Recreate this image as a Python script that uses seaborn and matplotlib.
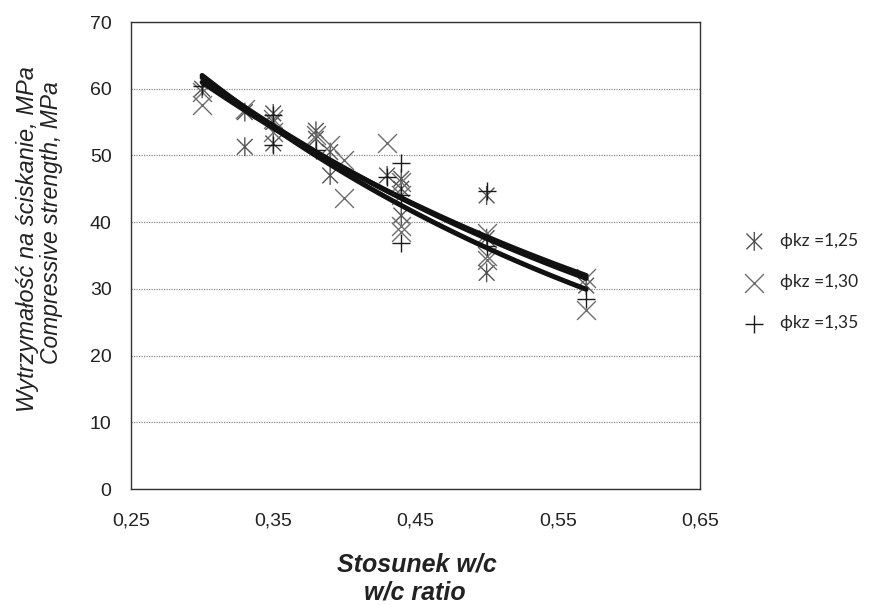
"""
Compressive strength vs w/c ratio for three phi_kz series, with exponential trend lines
"""

import numpy as np
import pandas as pd
import matplotlib
matplotlib.use('Agg')
import matplotlib.pyplot as plt
from matplotlib.path import Path
import seaborn as sns

# phi_kz = 1,25 (asterisk)
wc_125 = [0.30, 0.33, 0.33, 0.35, 0.35, 0.35, 0.38, 0.38, 0.39, 0.39, 0.43,
          0.44, 0.44, 0.44, 0.50, 0.50, 0.50, 0.57]
fc_125 = [60.0, 56.5, 51.3, 56.3, 55.0, 51.8, 53.7, 52.5, 50.5, 47.0, 47.0,
          46.5, 45.0, 41.0, 44.0, 37.6, 32.4, 30.5]

# phi_kz = 1,30 (cross)
wc_130 = [0.30, 0.30, 0.33, 0.35, 0.35, 0.38, 0.39, 0.40, 0.40, 0.43,
          0.44, 0.44, 0.44, 0.44, 0.50, 0.50, 0.50, 0.57, 0.57]
fc_130 = [57.6, 59.5, 57.0, 55.5, 53.5, 53.0, 51.5, 49.3, 43.6, 51.9,
          46.0, 44.0, 39.5, 38.5, 38.4, 35.0, 34.3, 31.6, 26.8]

# phi_kz = 1,35 (plus)
wc_135 = [0.30, 0.35, 0.35, 0.38, 0.43, 0.44, 0.44, 0.44, 0.50, 0.50, 0.57]
fc_135 = [60.4, 56.0, 51.5, 50.8, 46.8, 48.8, 44.0, 36.9, 44.6, 36.5, 28.5]

series_labels = ['ϕkz =1,25', 'ϕkz =1,30', 'ϕkz =1,35']
x_ticks = [0.25, 0.35, 0.45, 0.55, 0.65]
x_tick_labels = ['0,25', '0,35', '0,45', '0,55', '0,65']
y_ticks = [0, 10, 20, 30, 40, 50, 60, 70]

df = pd.concat([
    pd.DataFrame({'wc': wc_125, 'fc': fc_125, 'series': series_labels[0]}),
    pd.DataFrame({'wc': wc_130, 'fc': fc_130, 'series': series_labels[1]}),
    pd.DataFrame({'wc': wc_135, 'fc': fc_135, 'series': series_labels[2]}),
], ignore_index=True)

# Excel-like asterisk: an X with a vertical stroke
asterisk = Path(
    [(-0.5, -0.5), (0.5, 0.5), (-0.5, 0.5), (0.5, -0.5), (0, -0.6), (0, 0.6)],
    [Path.MOVETO, Path.LINETO, Path.MOVETO, Path.LINETO, Path.MOVETO, Path.LINETO]
)

sns.set_style('white')
plt.rcParams['font.family'] = ['Liberation Sans', 'DejaVu Sans']

fig = plt.figure(figsize=(8.7, 6.05), dpi=100)
ax = fig.add_axes([0.1506, 0.1917, 0.6540, 0.7719])

ax.yaxis.grid(True, linestyle=(0, (1, 1)), color='#8a8a8a', linewidth=0.9)
ax.set_axisbelow(True)

# exponential trend line for each series (least squares on ln y, like Excel)
for name, sub in df.groupby('series'):
    k, ln_a = np.polyfit(sub['wc'], np.log(sub['fc']), 1)
    xs = np.linspace(sub['wc'].min(), sub['wc'].max(), 60)
    sns.lineplot(x=xs, y=np.exp(ln_a + k * xs), ax=ax, color='#111111',
                 linewidth=3.6, legend=False, zorder=3)

styles = {
    series_labels[0]: dict(marker=asterisk, facecolor='none', edgecolor='#555555'),
    series_labels[1]: dict(marker='x', color='#6e6e6e'),
    series_labels[2]: dict(marker='+', color='#1a1a1a'),
}
handles = []
for name in series_labels:
    sub = df[df['series'] == name]
    sns.scatterplot(data=sub, x='wc', y='fc', ax=ax, s=185, linewidth=1.0,
                    zorder=2, **styles[name])
    handles.append(ax.collections[-1])

ax.set_xlim(0.25, 0.65)
ax.set_ylim(0, 70)
ax.set_xticks(x_ticks)
ax.set_xticklabels(x_tick_labels)
ax.set_yticks(y_ticks)
ax.tick_params(axis='both', length=0, labelsize=14, colors='#222222')
ax.tick_params(axis='x', pad=17)
ax.tick_params(axis='y', pad=14)
ax.set_xlabel('')
ax.set_ylabel('')
for sp in ax.spines.values():
    sp.set_visible(True)
    sp.set_color('#333333')
    sp.set_linewidth(1.0)

fig.text(28 / 870, 1 - 239 / 605, 'Wytrzymałość na ściskanie, MPa', rotation=90,
         ha='center', va='center', fontsize=17, fontstyle='italic', color='#222222')
fig.text(52 / 870, 1 - 223 / 605, 'Compressive strength, MPa', rotation=90,
         ha='center', va='center', fontsize=16.5, fontstyle='italic', color='#222222')
fig.text(417 / 870, 1 - 565 / 605, 'Stosunek w/c', ha='center', va='center',
         fontsize=18, fontstyle='italic', fontweight='bold', color='#222222')
fig.text(415 / 870, 1 - 592 / 605, 'w/c ratio', ha='center', va='center',
         fontsize=18, fontstyle='italic', fontweight='bold', color='#222222')

leg = fig.legend(handles, series_labels, loc='upper left',
                 bbox_to_anchor=(730 / 870, 1 - 226 / 605), frameon=False,
                 labelspacing=1.45, handletextpad=0.5, borderaxespad=0,
                 prop={'family': ['Lato', 'DejaVu Sans'], 'size': 12.5})

fig.savefig('out.png', dpi=100)
